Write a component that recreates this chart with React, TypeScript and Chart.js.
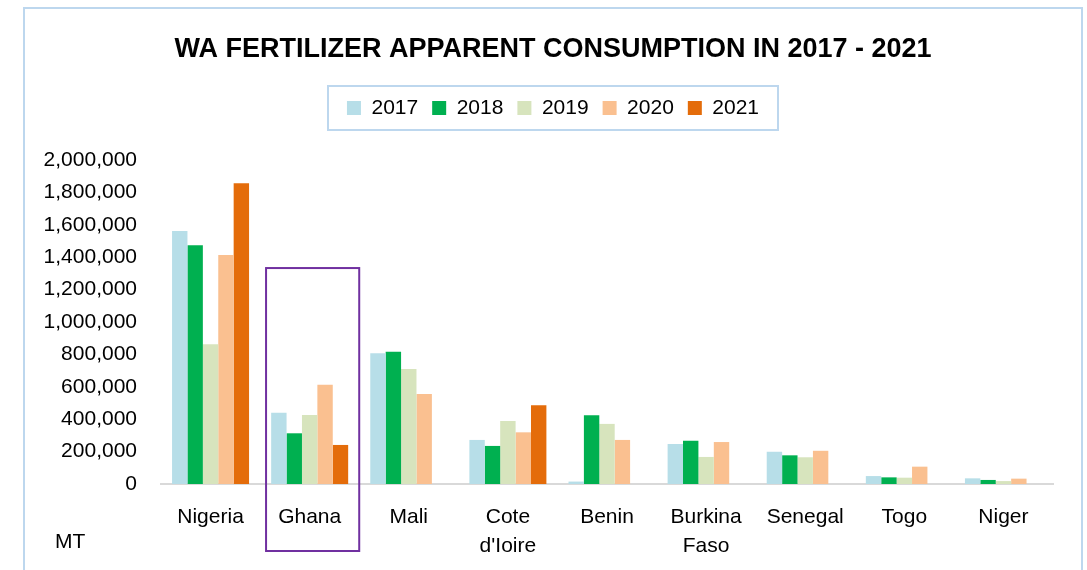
import React, { useEffect, useRef } from 'react';
import { Chart, registerables } from 'chart.js';

Chart.register(...registerables);

const categories: (string | string[])[] = [
  'Nigeria',
  'Ghana',
  'Mali',
  ['Cote', "d'Ioire"],
  'Benin',
  ['Burkina', 'Faso'],
  'Senegal',
  'Togo',
  'Niger',
];
const seriesNames = ['2017', '2018', '2019', '2020', '2021'];
const values2017 = [1562000, 440000, 807000, 272000, 15000, 247000, 199000, 49000, 35000];
const values2018 = [1473000, 313000, 817000, 235000, 424000, 267000, 177000, 41000, 25000];
const values2019 = [862000, 426000, 710000, 389000, 371000, 167000, 165000, 39000, 18000];
const values2020 = [1413000, 613000, 556000, 319000, 272000, 259000, 205000, 107000, 33000];
const values2021 = [1856000, 241000, null, 486000, null, null, null, null, null];
const seriesColors = ['#b7dee8', '#00b050', '#d7e4bd', '#fac090', '#e46c0a'];
const yMin = 0;
const yMax = 2000000;
const yStep = 200000;
const titleText = 'WA FERTILIZER APPARENT CONSUMPTION IN 2017 - 2021';
const unitText = 'MT';
const highlightCategory = 1;
const highlightTopValue = 1333000;

const FONT = '"Liberation Sans", Arial, sans-serif';
const FRAME = '#bdd7ee';

const decorPlugin = {
  id: 'decor',
  beforeLayout(chart: any) {
    const lg = chart.legend;
    if (lg && !lg.__patched) {
      const orig = lg.fit.bind(lg);
      lg.fit = function () {
        orig();
        this.height += 31.5;
      };
      lg.__patched = true;
    }
  },
  beforeDraw(chart: any) {
    const ctx = chart.ctx;
    ctx.save();
    ctx.fillStyle = '#ffffff';
    ctx.fillRect(0, 0, chart.width, chart.height);
    ctx.strokeStyle = FRAME;
    ctx.lineWidth = 2;
    ctx.strokeRect(24, 8, 1058, 620);
    ctx.restore();
  },
  afterDraw(chart: any) {
    const ctx = chart.ctx;
    const { chartArea, scales } = chart;
    ctx.save();
    // legend border
    const hb = chart.legend?.legendHitBoxes;
    if (hb && hb.length) {
      const first = hb[0];
      const last = hb[hb.length - 1];
      const cx = (first.left + last.left + last.width) / 2;
      const cy = first.top + first.height / 2;
      ctx.strokeStyle = FRAME;
      ctx.lineWidth = 2;
      ctx.strokeRect(cx - 225, cy - 22, 450, 44);
    }
    // unit label
    ctx.fillStyle = '#000000';
    ctx.font = `21px ${FONT}`;
    ctx.textBaseline = 'middle';
    ctx.textAlign = 'left';
    ctx.fillText(unitText, 55, 542);
    // highlight box
    const x = scales.x;
    const y = scales.y;
    const catW = (chartArea.right - chartArea.left) / categories.length;
    const cxp = x.getPixelForValue(highlightCategory);
    const top = y.getPixelForValue(highlightTopValue);
    ctx.strokeStyle = '#7030a0';
    ctx.lineWidth = 2;
    ctx.strokeRect(cxp - 0.44 * catW, top, 0.94 * catW, chartArea.bottom + 67 - top);
    ctx.restore();
  },
};

export default function App() {
  const ref = useRef<HTMLCanvasElement | null>(null);
  useEffect(() => {
    if (!ref.current) return;
    const allValues = [values2017, values2018, values2019, values2020, values2021];
    const chart = new Chart(ref.current, {
      type: 'bar',
      data: {
        labels: categories as any,
        datasets: seriesNames.map((name, i) => ({
          label: name,
          data: allValues[i] as any,
          backgroundColor: seriesColors[i],
          borderWidth: 0,
          categoryPercentage: 0.777,
          barPercentage: 1.0,
        })),
      },
      options: {
        animation: false,
        responsive: false,
        maintainAspectRatio: false,
        layout: { padding: { top: 0, left: 24, right: 5, bottom: 0 } },
        plugins: {
          title: {
            display: true,
            text: titleText,
            color: '#000000',
            font: { family: FONT, size: 27, weight: 'bold', lineHeight: 1.2 },
            padding: { top: 33.3, bottom: 17.8 },
          },
          legend: {
            display: true,
            position: 'top',
            labels: {
              color: '#000000',
              font: { family: FONT, size: 21 },
              boxWidth: 14,
              boxHeight: 14,
              padding: 14,
            },
          },
          tooltip: { enabled: false },
        },
        scales: {
          x: {
            grid: { display: false, drawTicks: false },
            border: { display: true, color: '#d9d9d9', width: 2 },
            ticks: {
              color: '#000000',
              font: { family: FONT, size: 21, lineHeight: 1.38 },
              padding: 19,
              maxRotation: 0,
              autoSkip: false,
            },
            afterFit: (s: any) => {
              s.height = 86;
            },
          },
          y: {
            min: yMin,
            max: yMax,
            grid: { display: false, drawTicks: false },
            border: { display: false },
            ticks: {
              stepSize: yStep,
              color: '#000000',
              font: { family: FONT, size: 21 },
              padding: 24,
              callback: (v: any) => Number(v).toLocaleString('en-US'),
            },
            afterFit: (s: any) => {
              s.width = 137;
            },
          },
          yRight: {
            type: 'linear',
            position: 'right',
            display: true,
            grid: { display: false, drawTicks: false },
            border: { display: false },
            ticks: { display: false },
            afterFit: (s: any) => {
              s.width = 29;
            },
          },
        },
      } as any,
      plugins: [decorPlugin],
    });
    return () => chart.destroy();
  }, []);
  return (
    <div style={{ position: 'absolute', left: 0, top: 0, width: 1087, height: 570, background: '#fff' }}>
      <canvas ref={ref} width={1087} height={570} style={{ display: 'block', width: 1087, height: 570 }} />
    </div>
  );
}
